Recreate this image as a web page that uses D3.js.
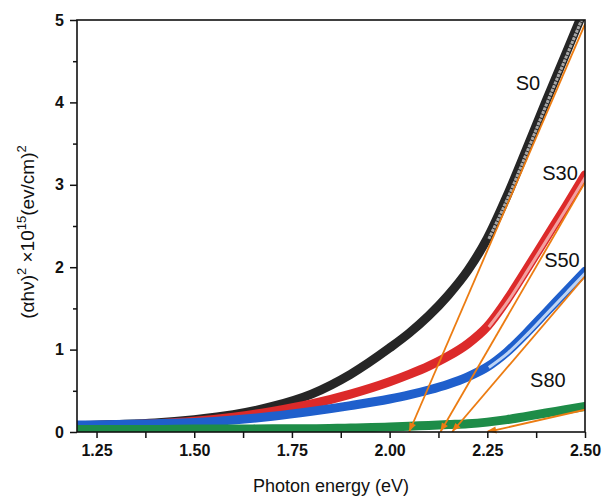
<!DOCTYPE html>
<html>
<head>
<meta charset="utf-8">
<script src="https://cdn.jsdelivr.net/npm/d3@7"></script>
<style>
  body { margin: 0; background: #fff; }
  text { font-family: "Liberation Sans", Arial, sans-serif; }
</style>
</head>
<body>
<svg id="chart"></svg>
<script>
// photon energy (eV) sampled for each series
var energy = [1.20, 1.30, 1.40, 1.50, 1.60, 1.70, 1.80, 1.90, 2.00, 2.05, 2.10, 2.15, 2.20, 2.25, 2.30, 2.35, 2.40, 2.45, 2.50];
var s0  = [0.075, 0.09, 0.11, 0.15, 0.21, 0.31, 0.46, 0.70, 1.02, 1.20, 1.41, 1.66, 1.96, 2.35, 2.86, 3.43, 4.01, 4.58, 5.15];
var s30 = [0.075, 0.085, 0.10, 0.13, 0.18, 0.25, 0.34, 0.46, 0.61, 0.70, 0.80, 0.92, 1.07, 1.28, 1.60, 1.97, 2.35, 2.73, 3.12];
var s50 = [0.085, 0.09, 0.10, 0.115, 0.145, 0.19, 0.25, 0.32, 0.40, 0.45, 0.51, 0.58, 0.67, 0.79, 0.97, 1.20, 1.45, 1.70, 1.95];
var s80 = [0.03, 0.03, 0.03, 0.035, 0.035, 0.04, 0.04, 0.05, 0.06, 0.07, 0.08, 0.09, 0.10, 0.12, 0.15, 0.19, 0.23, 0.27, 0.31];

var seriesNames = ["S0", "S30", "S50", "S80"];
// Tauc extrapolation lines: x-intercept and value at 2.50 eV
var tangentStart = [2.05, 2.13, 2.16, 2.25];
var tangentEnd = [4.95, 3.03, 1.89, 0.27];

var xTicks = [1.25, 1.50, 1.75, 2.00, 2.25, 2.50];
var yTicks = [0, 1, 2, 3, 4, 5];

var width = 605, height = 498;
var margin = {left: 77, right: 20, top: 20, bottom: 66};

var svg = d3.select("#chart")
    .attr("width", width)
    .attr("height", height);

var x = d3.scaleLinear().domain([1.2, 2.5]).range([margin.left, width - margin.right]);
var y = d3.scaleLinear().domain([0, 5]).range([height - margin.bottom, margin.top]);

svg.append("clipPath").attr("id", "clip")
  .append("rect")
    .attr("x", margin.left)
    .attr("y", margin.top)
    .attr("width", x(2.5) - margin.left)
    .attr("height", y(0) - margin.top);

var colors = ["#262626", "#dc2a2a", "#1f5fcc", "#1e8c48"];
var inner = ["#a8a8a8", "#f3a0a0", "#bcd3f5", "#4fb070"];

var line = d3.line()
    .x(function(d) { return x(d[0]); })
    .y(function(d) { return y(d[1]); })
    .curve(d3.curveMonotoneX);

var plot = svg.append("g").attr("clip-path", "url(#clip)");
var allSeries = [s0, s30, s50, s80];

// later samples sit on top, like the original plot
for (var i = 0; i < allSeries.length; i++) {
  var pts = energy.map(function(e, j) { return [e, allSeries[i][j]]; });
  plot.append("path")
      .attr("d", line(pts))
      .attr("fill", "none")
      .attr("stroke", colors[i])
      .attr("stroke-width", 9)
      .attr("stroke-linecap", "round");
  var upper = pts.filter(function(p) { return p[0] >= 2.25; });
  if (i < 3) {
    plot.append("path")
        .attr("d", line(upper))
        .attr("fill", "none")
        .attr("stroke", inner[i])
        .attr("stroke-width", 3)
        .attr("stroke-dasharray", i == 0 ? "3,1" : null)
        .attr("transform", "translate(1.5,0.5)");
  }
}

// orange extrapolation lines with arrow heads at the intercept
var orange = "#ec7c12";
for (var k = 0; k < tangentStart.length; k++) {
  var x0 = x(tangentStart[k]), y0 = y(0);
  var x1 = x(2.5), y1 = y(tangentEnd[k]);
  plot.append("line")
      .attr("x1", x0).attr("y1", y0)
      .attr("x2", x1).attr("y2", y1)
      .attr("stroke", orange)
      .attr("stroke-width", 1.8);
  var ang = Math.atan2(y1 - y0, x1 - x0);
  var len = 9, half = 3.5;
  var bx = x0 + len * Math.cos(ang), by = y0 + len * Math.sin(ang);
  var nx = -Math.sin(ang) * half, ny = Math.cos(ang) * half;
  svg.append("path")
      .attr("d", "M" + x0 + "," + (y0 - 1) + "L" + (bx + nx) + "," + (by + ny) + "L" + (bx - nx) + "," + (by - ny) + "Z")
      .attr("fill", orange);
}

// frame
svg.append("rect")
    .attr("x", margin.left)
    .attr("y", margin.top)
    .attr("width", x(2.5) - margin.left)
    .attr("height", y(0) - margin.top)
    .attr("fill", "none")
    .attr("stroke", "#111")
    .attr("stroke-width", 1.6);

// axes
svg.append("g")
    .attr("transform", "translate(0," + y(0) + ")")
    .call(d3.axisBottom(x).tickValues(xTicks).tickFormat(d3.format(".2f")).tickSize(6).tickPadding(7));
svg.append("g")
    .attr("transform", "translate(0," + y(0) + ")")
    .call(d3.axisBottom(x).tickValues(d3.range(1.375, 2.5, 0.25)).tickFormat("").tickSize(6));

svg.append("g")
    .attr("transform", "translate(" + margin.left + ",0)")
    .call(d3.axisLeft(y).tickValues(yTicks).tickFormat(d3.format("d")).tickSize(7).tickPadding(6));
svg.append("g")
    .attr("transform", "translate(" + margin.left + ",0)")
    .call(d3.axisLeft(y).tickValues([0.5, 1.5, 2.5, 3.5, 4.5]).tickFormat("").tickSize(4));

svg.selectAll(".domain").remove();
svg.selectAll(".tick line").attr("stroke", "#111").attr("stroke-width", 1.5);
svg.selectAll(".tick text")
    .attr("fill", "#111")
    .attr("font-size", 16)
    .attr("font-weight", "bold")
    .style("font-family", "'Liberation Sans', Arial, sans-serif");

// series labels
var labelPos = [[2.354, 4.15], [2.436, 3.06], [2.441, 2.0], [2.405, 0.55]];
seriesNames.forEach(function(n, i) {
  svg.append("text")
      .attr("x", x(labelPos[i][0]))
      .attr("y", y(labelPos[i][1]))
      .attr("text-anchor", "middle")
      .attr("font-size", 20)
      .attr("fill", "#111")
      .text(n);
});

// axis titles
svg.append("text")
    .attr("x", x(1.85))
    .attr("y", 492)
    .attr("text-anchor", "middle")
    .attr("font-size", 18)
    .attr("fill", "#111")
    .text("Photon energy (eV)");

var yt = svg.append("text")
    .attr("transform", "translate(34,232) rotate(-90)")
    .attr("text-anchor", "middle")
    .attr("font-size", 19)
    .attr("fill", "#111");
yt.append("tspan").text("(\u03b1h\u03bd)");
yt.append("tspan").attr("font-size", 13).attr("dy", -8).text("2");
yt.append("tspan").attr("dy", 8).text(" \u00d710");
yt.append("tspan").attr("font-size", 13).attr("dy", -8).text("15");
yt.append("tspan").attr("dy", 8).text("(ev/cm)");
yt.append("tspan").attr("font-size", 13).attr("dy", -8).text("2");
</script>
</body>
</html>
